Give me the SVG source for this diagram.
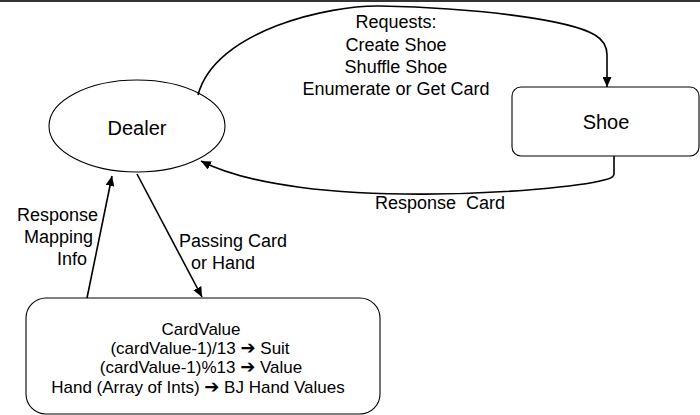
<svg xmlns="http://www.w3.org/2000/svg" width="700" height="415" viewBox="0 0 700 415">
  <defs>
    <marker id="arr" markerUnits="userSpaceOnUse" markerWidth="11" markerHeight="9" refX="10" refY="4.5" orient="auto">
      <path d="M0,0 L10,4.5 L0,9 z" fill="#000"/>
    </marker>
    <style>
      .shape { fill: #fff; stroke: #000; stroke-width: 1.1; }
      .conn { fill: none; stroke: #000; stroke-width: 1.6; }
      .lbl { font-family: "Liberation Sans", Arial, sans-serif; font-size: 18px; fill: #000; }
      .node { font-family: "Liberation Sans", Arial, sans-serif; font-size: 20px; fill: #000; text-anchor: middle; }
      .box { font-family: "Liberation Sans", "DejaVu Sans", Arial, sans-serif; font-size: 17px; fill: #000; text-anchor: middle; }
      .ar { font-family: "DejaVu Sans", sans-serif; font-weight: bold; font-size: 18px; }
    </style>
  </defs>
  <rect x="0" y="0" width="700" height="415" fill="#fff"/>
  <rect x="0" y="0" width="700" height="2" fill="#333"/>

  <g id="dealer">
    <ellipse class="shape" cx="137" cy="126" rx="88" ry="46"/>
    <text class="node" x="137" y="135">Dealer</text>
  </g>

  <g id="shoe">
    <rect class="shape" x="512" y="87" width="187" height="69" rx="9"/>
    <text class="node" x="606" y="129">Shoe</text>
  </g>

  <g id="cardvalue">
    <rect class="shape" x="26" y="298" width="354" height="116" rx="20"/>
    <text class="box" x="201" y="335">CardValue</text>
    <text class="box" x="200" y="354">(cardValue-1)/13 <tspan class="ar">➔</tspan> Suit</text>
    <text class="box" x="201" y="373">(cardValue-1)%13 <tspan class="ar">➔</tspan> Value</text>
    <text class="box" x="198" y="393">Hand (Array of Ints) <tspan class="ar">➔</tspan> BJ Hand Values</text>
  </g>

  <g id="connectors">
    <path class="conn" d="M198,95 C215,30 330,5 380,6 C480,8 570,20 595,35 Q607,42 607,55 L607,87" marker-end="url(#arr)"/>
    <path class="conn" d="M614,156 L614,174 Q614,178 604,180 C560,192 300,212 201,161" marker-end="url(#arr)"/>
    <path class="conn" d="M87,298 L112,176" marker-end="url(#arr)"/>
    <path class="conn" d="M137,174 L202,297" marker-end="url(#arr)"/>
  </g>

  <g id="labels">
    <text class="lbl" x="396" y="28" text-anchor="middle">Requests:</text>
    <text class="lbl" x="396" y="51" text-anchor="middle">Create Shoe</text>
    <text class="lbl" x="396" y="73" text-anchor="middle">Shuffle Shoe</text>
    <text class="lbl" x="396" y="95" text-anchor="middle">Enumerate or Get Card</text>
    <text class="lbl" x="375" y="209" xml:space="preserve">Response  Card</text>
    <text class="lbl" x="17" y="221">Response</text>
    <text class="lbl" x="24" y="243">Mapping</text>
    <text class="lbl" x="57" y="265">Info</text>
    <text class="lbl" x="179" y="247">Passing Card</text>
    <text class="lbl" x="191" y="269">or Hand</text>
  </g>
</svg>
